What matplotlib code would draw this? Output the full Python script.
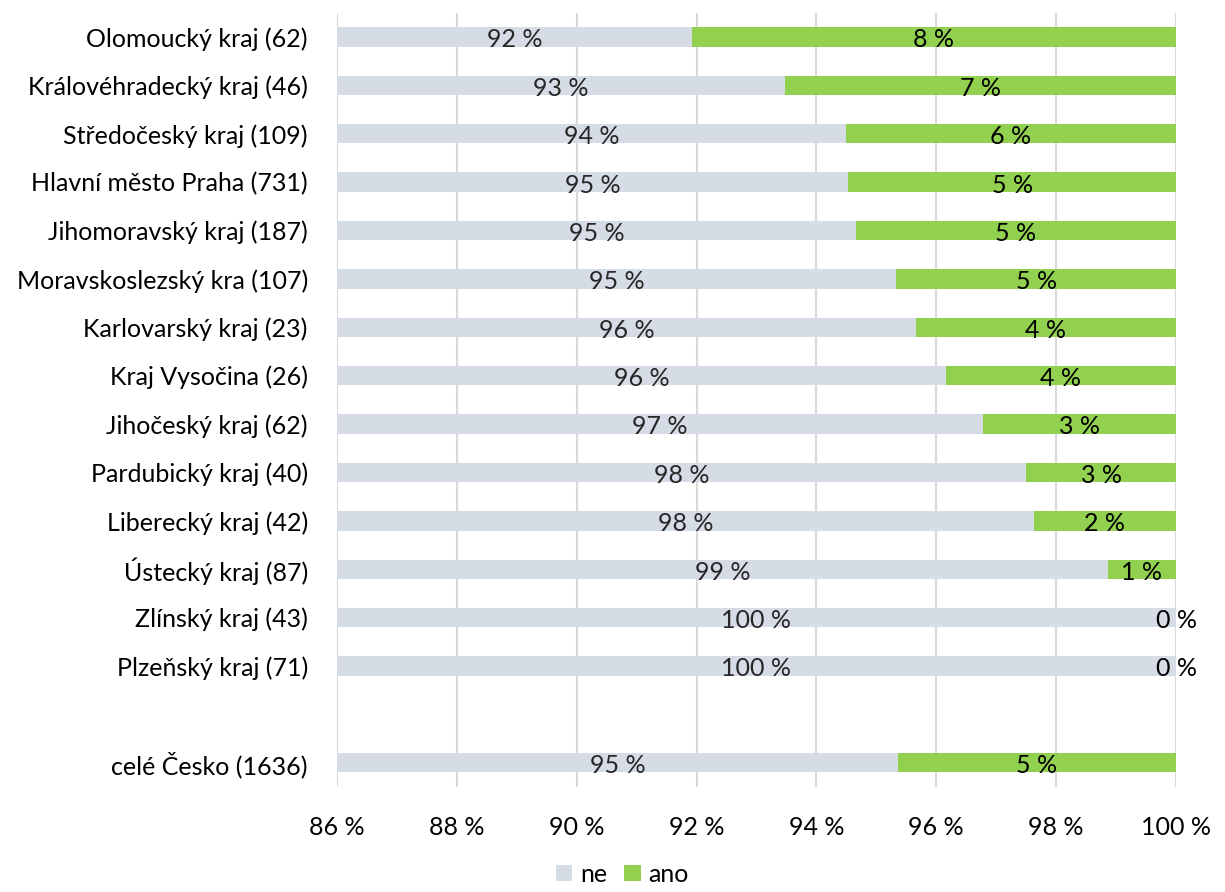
import numpy as np
import matplotlib.pyplot as plt

plt.rcParams['font.family'] = ['Lato', 'DejaVu Sans']

# kraje (pocet respondentu), poradi odshora; prazdny radek pred celym Ceskem
kraje = ['Olomoucký kraj (62)', 'Královéhradecký kraj (46)', 'Středočeský kraj (109)',
         'Hlavní město Praha (731)', 'Jihomoravský kraj (187)', 'Moravskoslezský kra (107)',
         'Karlovarský kraj (23)', 'Kraj Vysočina (26)', 'Jihočeský kraj (62)',
         'Pardubický kraj (40)', 'Liberecký kraj (42)', 'Ústecký kraj (87)',
         'Zlínský kraj (43)', 'Plzeňský kraj (71)', '', 'celé Česko (1636)']
ne = [91.92, 93.48, 94.49, 94.53, 94.66, 95.33, 95.66, 96.16, 96.78,
      97.5, 97.63, 98.86, 100.0, 100.0, np.nan, 95.36]
ano = [8.08, 6.52, 5.51, 5.47, 5.34, 4.67, 4.34, 3.84, 3.22,
       2.5, 2.37, 1.14, 0.0, 0.0, np.nan, 4.64]
xticky = [86, 88, 90, 92, 94, 96, 98, 100]

barva_ne = '#D6DCE5'
barva_ano = '#92D050'
fs = 18

fig = plt.figure(figsize=(12.25, 8.92), dpi=100)
ax = fig.add_axes([0.2751, 0.1177, 0.9600 - 0.2751, 0.9857 - 0.1177])

y = np.arange(len(kraje))
ne_arr = np.array(ne)
ano_arr = np.array(ano)
ax.barh(y, ne_arr, height=0.4, color=barva_ne, label='ne', zorder=2)
ax.barh(y, ano_arr, left=ne_arr, height=0.4, color=barva_ano, label='ano', zorder=2)

xmin, xmax = 86, 100
ax.set_xlim(xmin, xmax)
ax.set_ylim(len(kraje) - 0.5, -0.5)

def popisek(v):
    return '%d %%' % int(v + 0.5)

for i in range(len(kraje)):
    if np.isnan(ne_arr[i]):
        continue
    stred_ne = (xmin + ne_arr[i]) / 2
    ax.text(stred_ne, i + 0.06, popisek(ne_arr[i]), ha='center', va='center',
            fontsize=fs, color='#262626', zorder=3)
    stred_ano = ne_arr[i] + ano_arr[i] / 2
    ax.text(stred_ano, i + 0.06, popisek(ano_arr[i]), ha='center', va='center',
            fontsize=fs, color='black', zorder=3, clip_on=False)

ax.set_yticks(y)
ax.set_yticklabels(kraje, fontsize=fs)
ax.set_xticks(xticky)
ax.set_xticklabels(['%d %%' % t for t in xticky], fontsize=fs)
ax.tick_params(axis='y', length=0, pad=21)
ax.tick_params(axis='x', length=0, pad=21)
ax.grid(axis='x', color='#D9D9D9', linewidth=1.5, zorder=0)
for s in ax.spines.values():
    s.set_visible(False)

fig.legend(loc='center', bbox_to_anchor=(0.508, 0.02), ncol=2, frameon=False,
           fontsize=fs, handlelength=0.65, handleheight=0.65, handletextpad=0.3,
           columnspacing=0.7, borderpad=0.1)

fig.savefig('out.png', dpi=100)
